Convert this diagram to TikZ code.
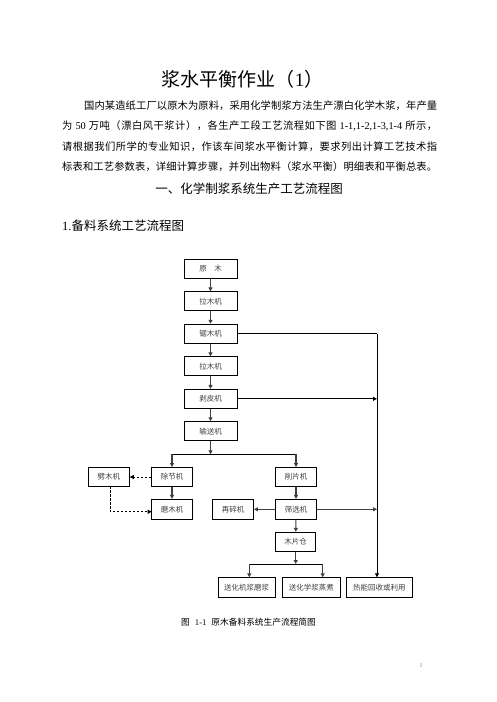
\documentclass[tikz,border=0pt]{standalone}
\usepackage{fontspec}
\setmainfont{Noto Sans CJK SC}
\newfontfamily\lat{Liberation Serif}
\usetikzlibrary{arrows.meta}
\makeatletter
\def\spr@endmark{\spr@end}
\newcommand\spreadline[2]{\hbox to #1{\spr@loop#2\spr@end\unskip}}
\def\spr@loop#1{\def\spr@tmp{#1}\ifx\spr@tmp\spr@endmark\else{#1}\hskip0pt plus 1fil\expandafter\spr@loop\fi}
\makeatother
\tikzset{
  box/.style={draw=black, line width=0.9pt, minimum height=19pt, inner sep=0pt,
    font=\fontsize{7.5}{9}\selectfont, text=black!75},
  wbox/.style={box, minimum width=53pt},
  sbox/.style={box, minimum width=41pt},
  arr/.style={line width=1.1pt, draw=black!75, -{Triangle[length=4pt,width=4pt]}},
  thin/.style={line width=0.8pt, draw=black},
  thinarr/.style={thin, -{Triangle[length=4pt,width=4pt]}},
  dasharr/.style={line width=0.8pt, dashed, dash pattern=on 2.5pt off 1.5pt, -{Triangle[length=4pt,width=4pt]}},
  para/.style={anchor=west, inner sep=0pt, font=\fontsize{10.3}{12}\selectfont},
}
\begin{document}
\begin{tikzpicture}[x=1pt,y=-1pt]
\fill[white] (0,0) rectangle (496,702);
\useasboundingbox (0,0) rectangle (496,702);

% title and text
\node[inner sep=0pt, font=\fontsize{19}{22}\selectfont] (title) at (242.5,79) {浆水平衡作业（{\lat 1}）};
\node[para] (p1) at (84,106) {\spreadline{353pt}{国内某造纸工厂以原木为原料，采用化学制浆方法生产漂白化学木浆，年产量}};
\node[para] (p2) at (62,126) {\spreadline{375pt}{为 {\lat\ 50\ } 万吨（漂白风干浆计），各生产工段工艺流程如下图 {\lat\ 1-1,1-2,1-3,1-4\ } 所示，}};
\node[para] (p3) at (62,147) {\spreadline{375pt}{请根据我们所学的专业知识，作该车间浆水平衡计算，要求列出计算工艺技术指}};
\node[para] (p4) at (62,167) {\spreadline{375pt}{标表和工艺参数表，详细计算步骤，并列出物料（浆水平衡）明细表和平衡总表。}};
\node[inner sep=0pt, font=\fontsize{12.5}{14}\selectfont] (h1) at (249,189) {一、化学制浆系统生产工艺流程图};
\node[anchor=west, inner sep=0pt, font=\fontsize{12.5}{14}\selectfont] (h2) at (62,226) {{\lat 1.}备料系统工艺流程图};

% boxes
\node[wbox] (yuanmu) at (210.5,268.8) {原\hspace{1em}木};
\node[wbox] (la1) at (210.5,301.3) {拉木机};
\node[wbox] (ju) at (210.5,333.7) {锯木机};
\node[wbox] (la2) at (210.5,366.3) {拉木机};
\node[wbox] (bo) at (210.5,398.8) {剥皮机};
\node[wbox] (shu) at (210.5,431.2) {输送机};
\node[sbox] (pi) at (108.8,477) {劈木机};
\node[sbox] (chu) at (172,477) {除节机};
\node[sbox, minimum height=20pt] (mo) at (172,509.3) {磨木机};
\node[sbox] (xiao) at (296,477) {削片机};
\node[sbox, minimum height=20pt] (zai) at (233,509.3) {再碎机};
\node[sbox, minimum height=20pt] (shai) at (296,509.3) {筛选机};
\node[box, minimum width=40pt] (mupian) at (295.7,541.8) {木片仓};
\node[box, minimum width=56.7pt, minimum height=20pt] (b1) at (246.7,587.3) {送化机浆磨浆};
\node[box, minimum width=58pt, minimum height=20pt] (b2) at (311.3,587.3) {送化学浆蒸煮};
\node[box, minimum width=66pt, minimum height=20pt] (b3) at (379.3,587.3) {热能回收或利用};

% helper coordinates
\coordinate (j1) at (210.5,454.3);
\coordinate (j1l) at (172,454.3);
\coordinate (j1r) at (296,454.3);
\coordinate (j2) at (295.7,564);
\coordinate (j2l) at (249.3,564);
\coordinate (j2r) at (322.7,564);
\coordinate (rtop) at (377,333.7);
\coordinate (rbo) at (377,398.8);
\coordinate (rshai) at (377,509.3);
\coordinate (rbot) at (377,577.3);
\coordinate (b1in) at (249.3,577.3);
\coordinate (b2in) at (322.7,577.3);
\coordinate (pidn) at (110.3,486.3);
\coordinate (dcorner) at (110.3,511.7);
\coordinate (moin) at (151.7,511.7);

% main chain
\draw[arr] (yuanmu) -- (la1);
\draw[arr] (la1) -- (ju);
\draw[arr] (ju) -- (la2);
\draw[arr] (la2) -- (bo);
\draw[arr] (bo) -- (shu);
\draw[arr] (shu) -- (j1);
\draw[thin] (j1l) -- (j1r);
\draw[arr] (j1l) -- (chu);
\draw[arr] (j1r) -- (xiao);
\draw[arr] (chu) -- (mo);
\draw[arr] (xiao) -- (shai);
\draw[arr] (shai) -- (zai);
\draw[arr] (shai) -- (rshai);
\draw[arr] (shai) -- (mupian);
\draw[arr] (mupian) -- (j2);
\draw[thin] (j2l) -- (j2r);
\draw[arr] (j2l) -- (b1in);
\draw[arr] (j2r) -- (b2in);

% right side line
\draw[thin] (ju.east) -- (rtop);
\draw[thinarr] (rtop) -- (rbot);
\draw[thinarr] (bo.east) -- (rbo);

% dashed
\draw[dasharr] (chu.west) -- (pi.east);
\draw[dasharr] (pidn) -- (dcorner) -- (moin);

% caption and page number
\node[anchor=west, inner sep=0pt, font=\fontsize{8.7}{10}\selectfont] (cap) at (181,622) {图\hspace{5pt}{\lat 1-1}\hspace{5pt}原木备料系统生产流程简图};
\node[inner sep=0pt, font=\fontsize{6}{7}\selectfont\lat, text=black!50] (pg) at (421,666) {1};
\end{tikzpicture}
\end{document}
